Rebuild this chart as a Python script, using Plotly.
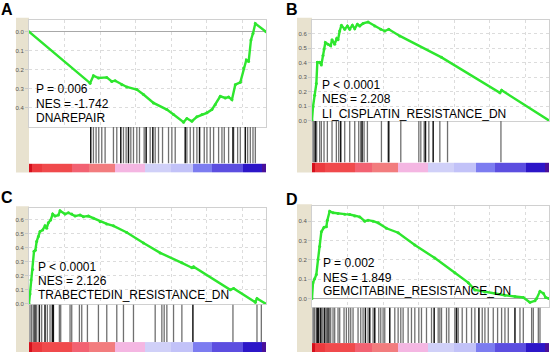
import plotly.graph_objects as go

N = 20000

# ---------------- data ----------------
# Panel A (DNAREPAIR)
a_rank = [0, 5155, 5437, 5859, 6563, 6986, 7268, 7831, 8254, 9099, 9662, 10507, 11634, 12197, 13042,
          13324, 13746, 14169, 14592, 15014, 15437, 15718, 16141, 16563, 16845, 17127, 17408, 17831,
          18113, 18338, 18535, 18732, 18901, 19099, 20000]
a_es = [0.0, -0.27, -0.231, -0.243, -0.24, -0.261, -0.257, -0.278, -0.29, -0.304, -0.33, -0.374, -0.409,
        -0.435, -0.475, -0.456, -0.47, -0.447, -0.435, -0.426, -0.409, -0.383, -0.339, -0.348, -0.343,
        -0.357, -0.278, -0.266, -0.191, -0.148, -0.157, -0.043, -0.009, 0.043, 0.0]
a_hits_gray = [5437, 5662, 5887, 6141, 6423, 7127, 7408, 7972, 8197, 8592, 8817, 9099, 9324, 9718,
               10225, 10648, 10930, 11268, 11775, 12056, 12338, 13324, 13606, 13887, 14169, 14789,
               15014, 15296, 15577, 16000, 16282, 16479, 16845, 17268, 17606, 17831, 18451, 18676,
               18901, 19099]
a_hits_black = [5211, 7746, 8394, 9887, 10451, 13183, 14394, 17211, 18254]

# Panel B (LI_CISPLATIN_RESISTANCE_DN)
b_rank = [0, 85, 225, 366, 451, 648, 789, 930, 1014, 1127, 1352, 1577, 1690, 1915, 2085, 2197, 2338,
          2479, 2761, 2986, 3183, 3408, 3606, 3831, 4028, 4310, 4732, 5296, 5803, 6141, 6479, 7408,
          10930, 15859, 16000, 20000]
b_es = [0.0, 0.095, 0.175, 0.255, 0.402, 0.402, 0.384, 0.448, 0.493, 0.539, 0.527, 0.516, 0.557, 0.527,
        0.566, 0.557, 0.618, 0.657, 0.63, 0.652, 0.63, 0.657, 0.634, 0.664, 0.652, 0.67, 0.68, 0.652,
        0.63, 0.618, 0.63, 0.584, 0.436, 0.191, 0.209, 0.0]
b_hits_gray = [85, 169, 394, 648, 789, 1014, 1296, 1690, 2056, 2254, 2761, 3183, 3606, 3944, 4113,
               4394, 4676, 5859, 6423, 7493, 9014, 9183, 9465, 9859, 10789, 11437, 15944]
b_hits_black = [282, 2423, 4225, 6479, 9577, 10225]

# Panel C (TRABECTEDIN_RESISTANCE_DN)
c_rank = [0, 85, 169, 310, 423, 535, 648, 789, 930, 1155, 1352, 1493, 1634, 1831, 2000, 2197, 2479,
          2620, 3042, 3324, 3606, 3887, 4310, 4592, 5014, 5437, 6000, 6563, 7127, 8254, 9662, 11070,
          12901, 13746, 13887, 16986, 17268, 19099, 19239, 20000]
c_es = [0.0, 0.071, 0.172, 0.247, 0.376, 0.384, 0.447, 0.482, 0.518, 0.529, 0.558, 0.541, 0.581, 0.6,
        0.642, 0.628, 0.635, 0.666, 0.642, 0.652, 0.642, 0.628, 0.635, 0.624, 0.628, 0.612, 0.588,
        0.572, 0.558, 0.511, 0.435, 0.365, 0.294, 0.259, 0.266, 0.101, 0.111, 0.012, 0.04, 0.0]
c_hits_gray = [85, 225, 366, 648, 1070, 1549, 1775, 2563, 2676, 3465, 3606, 4254, 4451, 4930, 5859,
               6563, 7408, 7972, 8817, 10648, 11211, 11408, 11634, 12197, 12901, 17211, 19239, 19606]
c_hits_black = [507, 873, 1352, 1972, 2056, 13831]

# Panel D (GEMCITABINE_RESISTANCE_DN)
d_rank = [0, 85, 225, 366, 507, 648, 789, 1014, 1211, 1296, 1493, 1775, 2197, 2761, 3183, 3606, 4028,
          4451, 4732, 5155, 5577, 6282, 7268, 8676, 10366, 12056, 13183, 13746, 14592, 15437, 16282,
          17127, 17831, 18394, 18817, 18958, 19239, 19521, 19718, 20000]
d_es = [0.0, 0.082, 0.102, 0.124, 0.201, 0.269, 0.345, 0.368, 0.371, 0.405, 0.451, 0.443, 0.439, 0.436,
        0.434, 0.426, 0.422, 0.4, 0.405, 0.4, 0.391, 0.363, 0.34, 0.277, 0.209, 0.133, 0.082, 0.044,
        0.034, 0.027, 0.017, 0.01, 0.005, -0.02, -0.012, 0.0, 0.037, 0.027, 0.005, 0.0]
d_hits_gray = [85, 169, 225, 366, 845, 930, 1211, 1493, 1577, 1775, 1915, 2197, 2338, 2704, 2901, 3099,
               3268, 3465, 3887, 4113, 4310, 4732, 5155, 5634, 5803, 6000, 6141, 6986, 7268, 7493,
               7690, 8113, 8394, 8676, 9014, 9239, 9662, 10085, 10648, 10789, 10930, 11352, 11549,
               12056, 12338, 12676, 13042, 13465, 13746, 14366, 14592, 14873, 15296, 15662, 16000,
               16282, 16563, 17549, 17831, 18535, 18676, 19099, 19239]
d_hits_black = [451, 563, 732, 1070, 1352, 4507, 4873, 5296, 6563, 10310, 12197, 14085, 17127]

# ranked-list colour bar (shared)
bar_edges = [0, 0.014, 0.054, 0.18, 0.255, 0.363, 0.49, 0.6, 0.694, 0.772, 0.903, 0.983, 1.0]
bar_colors = ["#d4101c", "#ec3a3e", "#f04a4c", "#f26272", "#f27c7e", "#f4b6e2", "#d0d0f8",
              "#c2c2f8", "#7c7cf0", "#5c4ee0", "#2c16c8", "#4a1098"]

panel_letters = ["A", "B", "C", "D"]
stat_p = ["P = 0.006", "P < 0.0001", "P < 0.0001", "P = 0.002"]
stat_nes = ["NES = -1.742", "NES = 2.208", "NES = 2.126", "NES = 1.849"]
gene_sets = ["DNAREPAIR", "LI_CISPLATIN_RESISTANCE_DN", "TRABECTEDIN_RESISTANCE_DN",
             "GEMCITABINE_RESISTANCE_DN"]

ytick_vals = [[0, -0.1, -0.2, -0.3, -0.4],
              [0, 0.1, 0.2, 0.3, 0.4, 0.5, 0.6],
              [0, 0.1, 0.2, 0.3, 0.4, 0.5, 0.6],
              [0, 0.1, 0.2, 0.3, 0.4]]
ytick_text = [["0.0", "0.1", "0.2", "0.3", "0.4"],
              ["0.0", "0.1", "0.2", "0.3", "0.4", "0.5", "0.6"],
              ["0.0", "0.1", "0.2", "0.3", "0.4", "0.5", "0.6"],
              ["0.0", "0.1", "0.2", "0.3", "0.4"]]

curves = [(a_rank, a_es), (b_rank, b_es), (c_rank, c_es), (d_rank, d_es)]
hits = [(a_hits_gray, a_hits_black), (b_hits_gray, b_hits_black),
        (c_hits_gray, c_hits_black), (d_hits_gray, d_hits_black)]

# ---------------- layout geometry (pixels) ----------------
W, H = 550, 355
px_x = [(29, 266), (312, 549), (29, 266), (312, 549)]
# (curve top, curve bottom/hits top, hits bottom/bar top, bar bottom)
px_y = [(20, 128, 165, 174), (20, 122, 164, 174), (210, 307, 345, 355), (208, 310, 346, 355)]
y_ranges = [[-0.5, 0.0625], [-0.003, 0.695], [-0.003, 0.684], [-0.046, 0.477]]
strips = [(16, 29, 18, 174), (297, 312, 18, 174), (16, 29, 208, 355), (297, 312, 206, 355)]
# (x, y, yanchor)
letter_pos = [(0, 0, "top"), (285, 0, "top"), (0, 199, "middle"), (285, 201, "middle")]
text_pos = [(34, [90, 105, 119]), (320, [86, 100, 115]), (36, [269, 283, 298]), (321, [265, 280, 293])]


def fx(p):
    return p / W


def fy(p):
    return 1 - p / H


fig = go.Figure()
layout = dict(width=W, height=H, margin=dict(l=0, r=0, t=0, b=0), showlegend=False,
              paper_bgcolor="white", plot_bgcolor="white", shapes=[], annotations=[])

font_txt = "Liberation Sans, Arial, sans-serif"

for p in range(4):
    x0, x1 = px_x[p]
    t, m1, m2, b = px_y[p]
    xd = [fx(x0), fx(x1)]
    for k, (ytop, ybot) in enumerate([(t, m1), (m1, m2), (m2, b)]):
        idx = p * 3 + k + 1
        xn = "xaxis" if idx == 1 else f"xaxis{idx}"
        yn = "yaxis" if idx == 1 else f"yaxis{idx}"
        xr = "x" if idx == 1 else f"x{idx}"
        yr = "y" if idx == 1 else f"y{idx}"
        xa = dict(domain=xd, range=[0, N], anchor=yr, showticklabels=False, ticks="",
                  zeroline=False, showgrid=False, showline=False, fixedrange=True)
        ya = dict(domain=[fy(ybot), fy(ytop)], anchor=xr, showticklabels=False, ticks="",
                  zeroline=False, showgrid=False, showline=False, fixedrange=True)
        if k == 0:
            xa.update(showgrid=True, gridcolor="#dcdcdc", griddash="dot", gridwidth=1,
                      tick0=0, dtick=3000, showline=True, mirror=True, linecolor="#d0d0d0")
            ya.update(range=y_ranges[p], showgrid=True, gridcolor="#dcdcdc", griddash="dot",
                      tickvals=ytick_vals[p], ticktext=ytick_text[p], showticklabels=True,
                      ticks="outside", ticklen=3, tickcolor="#c8c8c8",
                      tickfont=dict(size=6, color="#555555", family=font_txt),
                      zeroline=True, zerolinecolor="#a8a8a8", zerolinewidth=1,
                      showline=True, mirror=True, linecolor="#d0d0d0")
            fig.add_trace(go.Scatter(x=curves[p][0], y=curves[p][1], mode="lines+markers",
                                     line=dict(color="#2ee62e", width=2.4),
                                     marker=dict(size=3, color="#2ee62e"),
                                     xaxis=xr, yaxis=yr, hoverinfo="skip"))
        elif k == 1:
            ya.update(range=[0, 1])
            for hl, col, w in [(hits[p][0], "#707070", 1.3), (hits[p][1], "#151515", 1.5)]:
                xs, ys = [], []
                for h in hl:
                    xs += [h, h, None]
                    ys += [0, 1, None]
                fig.add_trace(go.Scatter(x=xs, y=ys, mode="lines", line=dict(color=col, width=w),
                                         xaxis=xr, yaxis=yr, hoverinfo="skip"))
        else:
            ya.update(range=[0, 1])
            nseg = len(bar_colors)
            cs = [[i / (nseg - 1), c] for i, c in enumerate(bar_colors)]
            fig.add_trace(go.Heatmap(x=[e * N for e in bar_edges], y=[0, 1],
                                     z=[list(range(nseg))], zmin=0, zmax=nseg - 1,
                                     colorscale=cs, showscale=False,
                                     xaxis=xr, yaxis=yr, hoverinfo="skip"))
        layout[xn] = xa
        layout[yn] = ya

    sx0, sx1, sy0, sy1 = strips[p]
    layout["shapes"].append(dict(type="rect", xref="paper", yref="paper",
                                 x0=fx(sx0), x1=fx(sx1), y0=fy(sy1), y1=fy(sy0),
                                 fillcolor="#e8e2cf", line=dict(width=0), layer="below"))
    lx, ly, lanc = letter_pos[p]
    layout["annotations"].append(dict(text=f"<b>{panel_letters[p]}</b>", xref="paper", yref="paper",
                                      x=fx(lx), y=fy(ly), xanchor="left", yanchor=lanc,
                                      showarrow=False, borderpad=0,
                                      font=dict(size=16, color="black", family=font_txt)))
    tx, tys = text_pos[p]
    for s, ty in zip([stat_p[p], stat_nes[p], gene_sets[p]], tys):
        layout["annotations"].append(dict(text=s, xref="paper", yref="paper", x=fx(tx), y=fy(ty),
                                          xanchor="left", yanchor="middle", showarrow=False,
                                          font=dict(size=12, color="black", family=font_txt)))

fig.update_layout(**layout)
fig.write_html("out.html", config={"displayModeBar": False},
               post_script="document.body.style.margin='0px';")
